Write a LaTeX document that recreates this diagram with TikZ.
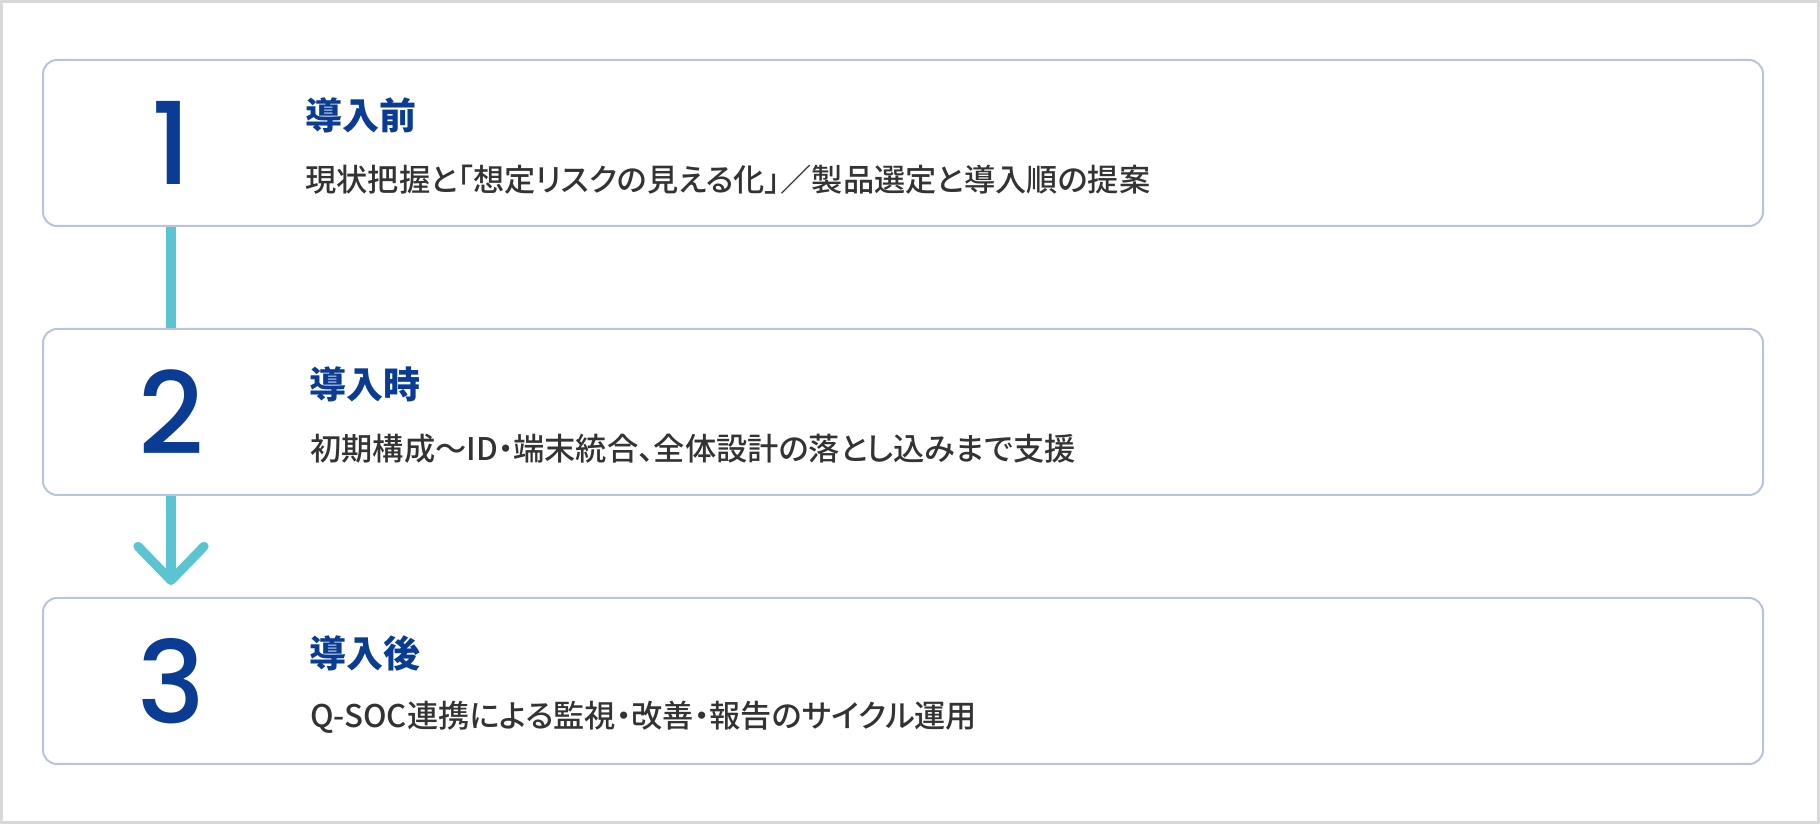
\documentclass[tikz,border=0pt]{standalone}
\usepackage{fontspec}
\setmainfont{Noto Sans CJK JP}[RawFeature=+palt]
\newfontfamily\numfont{Poppins Medium}
\newfontfamily\bodyfont{Noto Sans CJK JP Medium}[RawFeature=+palt]
\usepackage{tikz}
\usetikzlibrary{positioning,arrows.meta}
\definecolor{stepblue}{HTML}{0A3C93}
\definecolor{stepline}{HTML}{B7C4DD}
\definecolor{flowteal}{HTML}{5BC4D2}
\definecolor{bodygray}{HTML}{333333}
\definecolor{framegray}{HTML}{D8D8D8}
\tikzset{
  stepbox/.style={draw=stepline, line width=1pt, rounded corners=7pt,
    minimum width=860pt, minimum height=83pt, inner sep=0pt},
  stepnum/.style={text=stepblue, inner sep=0pt,
    font=\fontsize{57}{57}\numfont},
  steptitle/.style={anchor=west, text=stepblue, inner sep=0pt,
    font=\fontsize{18.5}{20}\selectfont\bfseries},
  steptext/.style={anchor=west, text=bodygray, inner sep=0pt,
    font=\fontsize{15.6}{18}\bodyfont},
  flow/.style={draw=flowteal, line width=4.6pt},
}

\begin{document}
\begin{tikzpicture}

\useasboundingbox (0,0) rectangle (910pt,412pt);
\draw[framegray, line width=1.5pt] (0.75pt,0.75pt) rectangle (909.25pt,411.25pt);

% Step 1
\node [stepbox] (box1) at (451.5pt,340.5pt) {};
\node [stepnum] (num1) at ([xshift=64.5pt] box1.west) {1};
\node [steptitle] (title1) at ([xshift=131.5pt,yshift=13.6pt] box1.west) {導入前};
\node [steptext] (text1) at ([xshift=131.5pt,yshift=-18.3pt] box1.west) {現状把握と「想定リスクの見える化」／製品選定と導入順の提案};

% Step 2
\node [stepbox,
	below = 50.5pt of box1
] (box2) {};
\node [stepnum] (num2) at ([xshift=64.5pt] box2.west) {2};
\node [steptitle] (title2) at ([xshift=133.5pt,yshift=13.6pt] box2.west) {導入時};
\node [steptext] (text2) at ([xshift=134pt,yshift=-18.3pt] box2.west) {初期構成～ID・端末統合、全体設計の落とし込みまで支援};

% Step 3
\node [stepbox,
	below = 50.5pt of box2
] (box3) {};
\node [stepnum] (num3) at ([xshift=64.5pt] box3.west) {3};
\node [steptitle] (title3) at ([xshift=133.5pt,yshift=13.6pt] box3.west) {導入後};
\node [steptext] (text3) at ([xshift=134pt,yshift=-18.3pt] box3.west) {Q-SOC連携による監視・改善・報告のサイクル運用};

% Connectors
\coordinate (tip3) at ([yshift=6pt] box3.north -| num3);
\draw[flow] (box1.south -| num1) -- (box2.north -| num2);
\draw[flow, -{Straight Barb[length=17pt,width=33pt,round]}] (box2.south -| num2) -- (tip3);

\end{tikzpicture}
\end{document}
